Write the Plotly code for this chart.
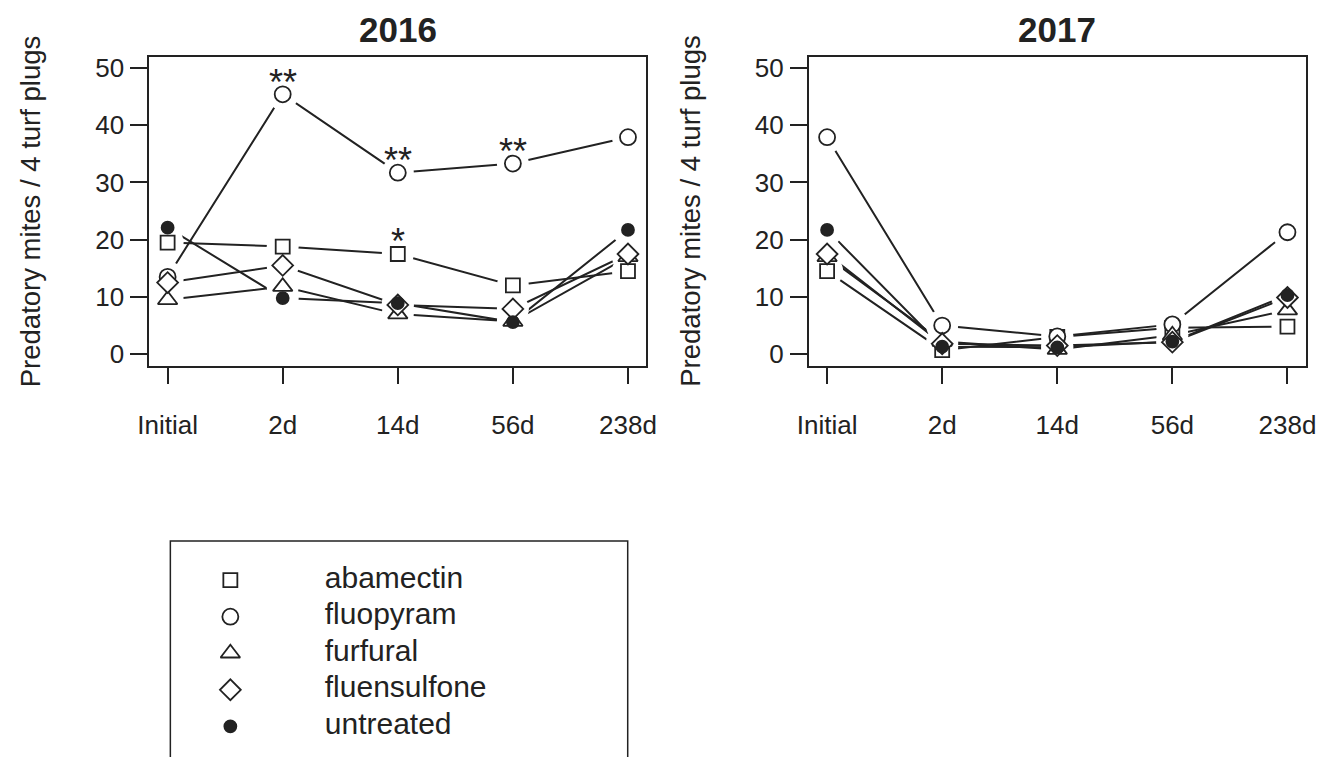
import plotly.graph_objects as go

# ---------------- data ----------------
categories = ["Initial", "2d", "14d", "56d", "238d"]
series_names = ["abamectin", "fluopyram", "furfural", "fluensulfone", "untreated"]

y2016_abamectin = [19.5, 18.8, 17.5, 12.0, 14.5]
y2016_fluopyram = [13.5, 45.4, 31.7, 33.3, 37.9]
y2016_furfural = [9.5, 11.8, 7.0, 5.7, 17.0]
y2016_fluensulfone = [12.5, 15.5, 8.6, 7.9, 17.5]
y2016_untreated = [22.1, 9.8, 8.9, 5.6, 21.7]

y2017_abamectin = [14.5, 0.7, 3.0, 4.6, 4.8]
y2017_fluopyram = [37.9, 5.0, 3.1, 5.2, 21.3]
y2017_furfural = [17.0, 2.2, 0.8, 3.3, 7.7]
y2017_fluensulfone = [17.5, 1.8, 1.5, 2.1, 9.9]
y2017_untreated = [21.7, 1.3, 1.2, 2.2, 10.3]

y_ticks = [0, 10, 20, 30, 40, 50]

# significance marks (2016 panel)
sig_category = ["2d", "14d", "56d", "14d"]
sig_series = ["fluopyram", "fluopyram", "fluopyram", "abamectin"]
sig_label = ["**", "**", "**", "*"]

panels = {
    "2016": dict(zip(series_names, [y2016_abamectin, y2016_fluopyram, y2016_furfural,
                                    y2016_fluensulfone, y2016_untreated])),
    "2017": dict(zip(series_names, [y2017_abamectin, y2017_fluopyram, y2017_furfural,
                                    y2017_fluensulfone, y2017_untreated])),
}

# ---------------- styles ----------------
INK = "#222222"
FONT = "Liberation Sans, Arial, Helvetica, sans-serif"
W, H = 1338, 757

marker_style = {
    "abamectin": dict(symbol="square", size=14),
    "fluopyram": dict(symbol="circle", size=16),
    "furfural": dict(symbol="triangle-up", size=17),
    "fluensulfone": dict(symbol="diamond", size=16),
    "untreated": dict(symbol="circle", size=12),
}

xpos = list(range(1, len(categories) + 1))

# pixel layout of plot boxes
box_top, box_bot = 54, 366
panel_px = {"2016": (139.5, 645.0), "2017": (810.0, 1315.5)}
axis_ids = {"2016": ("x", "y"), "2017": ("x2", "y2")}

fig = go.Figure()

# lines first
for yr, data in panels.items():
    xa, ya = axis_ids[yr]
    for s in series_names:
        fig.add_trace(go.Scatter(x=xpos, y=data[s], mode="lines", xaxis=xa, yaxis=ya,
                                 line=dict(color=INK, width=2), showlegend=False,
                                 hoverinfo="skip"))
# white halos (type="b" gaps)
for yr, data in panels.items():
    xa, ya = axis_ids[yr]
    for s in series_names:
        fig.add_trace(go.Scatter(x=xpos, y=data[s], mode="markers", xaxis=xa, yaxis=ya,
                                 marker=dict(symbol="circle", size=32, color="white",
                                             line=dict(width=0)),
                                 showlegend=False, hoverinfo="skip"))
# markers
for yr, data in panels.items():
    xa, ya = axis_ids[yr]
    for s in series_names:
        ms = marker_style[s]
        fig.add_trace(go.Scatter(x=xpos, y=data[s], mode="markers", xaxis=xa, yaxis=ya,
                                 name=s,
                                 marker=dict(symbol=ms["symbol"], size=ms["size"],
                                             color=INK if s == "untreated" else "white",
                                             line=dict(color=INK, width=1.8)),
                                 showlegend=False))

# significance asterisks
annotations = []
for cat, s, lab in zip(sig_category, sig_series, sig_label):
    i = categories.index(cat)
    annotations.append(dict(x=xpos[i], y=panels["2016"][s][i], xref="x", yref="y",
                            text=lab, showarrow=False, yshift=12,
                            font=dict(family=FONT, size=36, color=INK)))

# legend (custom, R-style)
leg_rows = list(range(len(series_names)))
for s, r in zip(series_names, leg_rows):
    ms = marker_style[s]
    fig.add_trace(go.Scatter(x=[0], y=[r], mode="markers", xaxis="x3", yaxis="y3",
                             marker=dict(symbol=ms["symbol"], size=ms["size"],
                                         color=INK if s == "untreated" else "white",
                                         line=dict(color=INK, width=1.8)),
                             showlegend=False, hoverinfo="skip"))
fig.add_trace(go.Scatter(x=[1] * len(series_names), y=leg_rows, mode="text",
                         text=series_names, textposition="middle right",
                         textfont=dict(family=FONT, size=30, color=INK),
                         xaxis="x3", yaxis="y3", showlegend=False, hoverinfo="skip"))

leg_left, leg_right, leg_top = 161, 626, 543
fig.add_shape(type="rect", xref="paper", yref="paper",
              x0=leg_left / W, x1=leg_right / W, y0=-0.05, y1=1 - leg_top / H,
              line=dict(color=INK, width=1.5), fillcolor="rgba(0,0,0,0)")

# titles and y-axis labels
for yr in panels:
    l, r = panel_px[yr]
    annotations.append(dict(x=(l + r) / 2 / W, y=1 - 27 / H, xref="paper", yref="paper",
                            text="<b>%s</b>" % yr, showarrow=False,
                            font=dict(family=FONT, size=35, color=INK),
                            xanchor="center", yanchor="middle"))
    annotations.append(dict(x=(l - 121) / W, y=1 - 210 / H, xref="paper", yref="paper",
                            text="Predatory mites / 4 turf plugs", textangle=-90,
                            showarrow=False, font=dict(family=FONT, size=27.5, color=INK),
                            xanchor="center", yanchor="middle"))

axis_common = dict(showline=True, linecolor=INK, linewidth=1.5, mirror=True,
                   showgrid=False, zeroline=False, ticks="outside", ticklen=17,
                   tickwidth=1.5, tickcolor=INK,
                   tickfont=dict(family=FONT, size=26, color=INK))

layout = dict(width=W, height=H, margin=dict(l=0, r=0, t=0, b=0),
              plot_bgcolor="white", paper_bgcolor="white",
              annotations=annotations, showlegend=False)

for yr in panels:
    xa, ya = axis_ids[yr]
    l, r = panel_px[yr]
    xkey = "xaxis" if xa == "x" else "xaxis2"
    ykey = "yaxis" if ya == "y" else "yaxis2"
    layout[xkey] = dict(axis_common, domain=[l / W, r / W], range=[0.84, 5.16],
                        tickvals=xpos, ticktext=categories, anchor=ya,
                        ticklabelstandoff=18)
    layout[ykey] = dict(axis_common, domain=[1 - box_bot / H, 1 - box_top / H],
                        range=[-2, 52], tickvals=y_ticks, anchor=xa,
                        ticklabelstandoff=1)

# legend axes: symbols at x=0, labels at x=1; rows 0..4
sym_px, txt_px, row0_px, row_gap = 222, 318, 582.5, 36.9
px_per_unit = txt_px - sym_px
layout["xaxis3"] = dict(domain=[leg_left / W, leg_right / W], visible=False,
                        range=[-(sym_px - leg_left) / px_per_unit,
                               (leg_right - sym_px) / px_per_unit], anchor="y3")
layout["yaxis3"] = dict(domain=[0, 1 - leg_top / H], visible=False,
                        range=[(H - row0_px) / row_gap, -(row0_px - leg_top) / row_gap],
                        anchor="x3")

fig.update_layout(**layout)
fig.write_html("out.html", config={"displayModeBar": False},
               post_script="document.body.style.margin='0';document.body.style.overflow='hidden';")
